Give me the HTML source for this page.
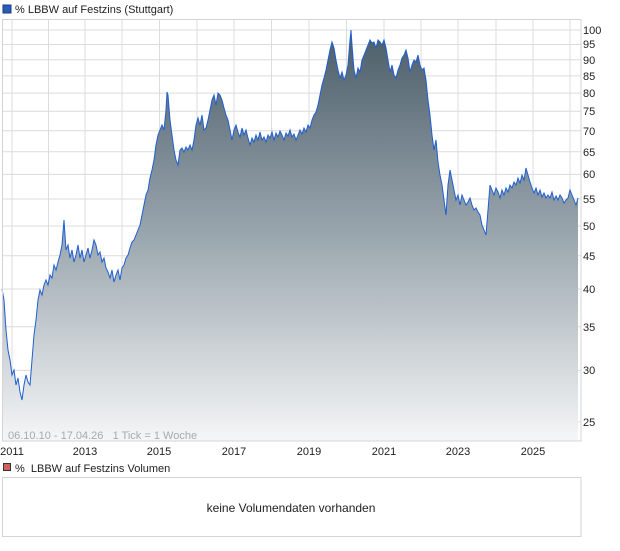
<!DOCTYPE html>
<html><head><meta charset="utf-8"><style>
body{margin:0;background:#fff;width:620px;height:546px;overflow:hidden;font-family:"Liberation Sans",sans-serif}
</style></head><body>
<svg width="620" height="546" xmlns="http://www.w3.org/2000/svg" font-family="Liberation Sans, sans-serif">
<defs>
<linearGradient id="g" gradientUnits="userSpaceOnUse" x1="0" y1="30" x2="0" y2="441">
<stop offset="0" stop-color="#4b5d69"/><stop offset="0.5" stop-color="#9aa6ae"/><stop offset="1" stop-color="#f5f6f7"/>
</linearGradient>
</defs>
<rect x="3" y="5" width="8" height="8" fill="#2a5cb8" stroke="#1a3c80" stroke-width="1"/>
<text x="15" y="13" font-size="11" fill="#222">%  LBBW auf Festzins (Stuttgart)</text>
<g stroke="#dcdcdc" stroke-width="1">
<line x1="12" y1="19" x2="12" y2="441"/><line x1="48.5" y1="19" x2="48.5" y2="441"/><line x1="85" y1="19" x2="85" y2="441"/><line x1="122" y1="19" x2="122" y2="441"/><line x1="159.5" y1="19" x2="159.5" y2="441"/><line x1="197" y1="19" x2="197" y2="441"/><line x1="234" y1="19" x2="234" y2="441"/><line x1="271.5" y1="19" x2="271.5" y2="441"/><line x1="309" y1="19" x2="309" y2="441"/><line x1="346.5" y1="19" x2="346.5" y2="441"/><line x1="384" y1="19" x2="384" y2="441"/><line x1="421" y1="19" x2="421" y2="441"/><line x1="458" y1="19" x2="458" y2="441"/><line x1="496" y1="19" x2="496" y2="441"/><line x1="533" y1="19" x2="533" y2="441"/><line x1="570" y1="19" x2="570" y2="441"/>
<line x1="2" y1="30" x2="581" y2="30"/><line x1="2" y1="44.5" x2="581" y2="44.5"/><line x1="2" y1="59.7" x2="581" y2="59.7"/><line x1="2" y1="75.9" x2="581" y2="75.9"/><line x1="2" y1="93.1" x2="581" y2="93.1"/><line x1="2" y1="111.3" x2="581" y2="111.3"/><line x1="2" y1="130.8" x2="581" y2="130.8"/><line x1="2" y1="151.8" x2="581" y2="151.8"/><line x1="2" y1="174.4" x2="581" y2="174.4"/><line x1="2" y1="199" x2="581" y2="199"/><line x1="2" y1="226" x2="581" y2="226"/><line x1="2" y1="255.8" x2="581" y2="255.8"/><line x1="2" y1="289" x2="581" y2="289"/><line x1="2" y1="326.8" x2="581" y2="326.8"/><line x1="2" y1="370.4" x2="581" y2="370.4"/><line x1="2" y1="422" x2="581" y2="422"/>
</g>
<path id="p" fill="url(#g)" stroke="none" d="M2,441 L2,289 4,300 6,330 8,350 10,360 12,375 14,370 16,385 18,378 20,392 22,400 24,385 26,375 28,382 30,385 32,360 34,335 36,320 38,300 40,290 42,295 44,285 46,280 48,285 50,275 52,278 54,265 56,270 58,262 60,255 62,245 64,220 65,235 66,250 68,245 70,258 72,250 74,262 76,255 78,245 80,258 82,250 84,262 86,255 88,248 90,258 92,250 94,240 96,245 98,255 100,252 102,262 104,258 106,268 108,272 110,278 112,270 114,282 116,275 118,270 120,280 122,268 124,265 126,258 128,255 130,248 132,242 134,240 136,235 138,230 140,225 142,215 144,205 146,195 148,190 150,178 152,170 154,160 156,145 158,135 160,130 162,125 164,130 166,110 167,92 168,95 170,120 172,135 174,150 176,160 178,165 180,150 182,148 184,152 186,147 188,150 190,145 192,150 194,140 196,125 198,118 200,125 202,115 204,130 206,128 208,120 210,110 212,100 214,95 216,105 218,93 220,95 222,100 224,108 226,115 228,120 230,130 232,140 234,130 236,125 238,132 240,137 242,128 244,135 246,130 248,138 250,145 252,138 254,142 256,135 258,140 260,132 262,140 264,137 266,142 268,135 270,138 272,132 274,140 276,133 278,137 280,131 282,135 284,140 286,133 288,136 290,130 292,137 294,134 296,140 298,135 300,130 302,134 304,128 306,132 308,125 310,128 312,120 314,115 316,112 318,105 320,95 322,85 324,78 326,70 328,60 330,50 332,42 334,48 336,60 338,70 340,78 342,72 344,80 346,75 348,65 350,40 351,30 352,45 354,70 356,78 358,68 360,72 362,60 364,55 366,50 368,45 370,40 372,43 374,42 376,48 378,40 380,42 382,45 384,40 386,48 388,60 390,72 392,65 394,75 396,78 398,70 400,65 402,58 404,55 406,50 408,58 410,72 412,65 414,60 416,62 418,55 420,65 422,70 424,68 426,80 428,100 430,115 432,135 434,150 436,140 438,162 440,175 442,185 444,200 446,215 448,185 450,170 452,180 454,190 456,200 458,195 460,205 462,195 464,200 466,205 468,202 470,198 472,205 474,210 476,208 478,212 480,215 482,225 484,230 486,235 488,210 490,185 492,190 494,195 496,188 498,192 500,198 502,190 504,195 506,188 508,192 510,185 512,188 514,182 516,185 518,178 520,183 522,175 524,180 526,168 528,175 530,182 532,188 534,193 536,188 538,195 540,190 542,197 544,193 546,198 548,195 550,198 552,192 554,200 556,196 558,200 560,195 562,198 564,203 566,200 568,198 570,190 572,195 574,200 576,205 578,198 L578,441 Z"/>
<polyline fill="none" stroke="#1f5fd0" stroke-width="1" points="2,289 4,300 6,330 8,350 10,360 12,375 14,370 16,385 18,378 20,392 22,400 24,385 26,375 28,382 30,385 32,360 34,335 36,320 38,300 40,290 42,295 44,285 46,280 48,285 50,275 52,278 54,265 56,270 58,262 60,255 62,245 64,220 65,235 66,250 68,245 70,258 72,250 74,262 76,255 78,245 80,258 82,250 84,262 86,255 88,248 90,258 92,250 94,240 96,245 98,255 100,252 102,262 104,258 106,268 108,272 110,278 112,270 114,282 116,275 118,270 120,280 122,268 124,265 126,258 128,255 130,248 132,242 134,240 136,235 138,230 140,225 142,215 144,205 146,195 148,190 150,178 152,170 154,160 156,145 158,135 160,130 162,125 164,130 166,110 167,92 168,95 170,120 172,135 174,150 176,160 178,165 180,150 182,148 184,152 186,147 188,150 190,145 192,150 194,140 196,125 198,118 200,125 202,115 204,130 206,128 208,120 210,110 212,100 214,95 216,105 218,93 220,95 222,100 224,108 226,115 228,120 230,130 232,140 234,130 236,125 238,132 240,137 242,128 244,135 246,130 248,138 250,145 252,138 254,142 256,135 258,140 260,132 262,140 264,137 266,142 268,135 270,138 272,132 274,140 276,133 278,137 280,131 282,135 284,140 286,133 288,136 290,130 292,137 294,134 296,140 298,135 300,130 302,134 304,128 306,132 308,125 310,128 312,120 314,115 316,112 318,105 320,95 322,85 324,78 326,70 328,60 330,50 332,42 334,48 336,60 338,70 340,78 342,72 344,80 346,75 348,65 350,40 351,30 352,45 354,70 356,78 358,68 360,72 362,60 364,55 366,50 368,45 370,40 372,43 374,42 376,48 378,40 380,42 382,45 384,40 386,48 388,60 390,72 392,65 394,75 396,78 398,70 400,65 402,58 404,55 406,50 408,58 410,72 412,65 414,60 416,62 418,55 420,65 422,70 424,68 426,80 428,100 430,115 432,135 434,150 436,140 438,162 440,175 442,185 444,200 446,215 448,185 450,170 452,180 454,190 456,200 458,195 460,205 462,195 464,200 466,205 468,202 470,198 472,205 474,210 476,208 478,212 480,215 482,225 484,230 486,235 488,210 490,185 492,190 494,195 496,188 498,192 500,198 502,190 504,195 506,188 508,192 510,185 512,188 514,182 516,185 518,178 520,183 522,175 524,180 526,168 528,175 530,182 532,188 534,193 536,188 538,195 540,190 542,197 544,193 546,198 548,195 550,198 552,192 554,200 556,196 558,200 560,195 562,198 564,203 566,200 568,198 570,190 572,195 574,200 576,205 578,198"/>
<rect x="2.5" y="19.5" width="578.5" height="421.5" fill="none" stroke="#d4d4d4"/>
<g font-size="11" fill="#222">
<text x="583" y="34">100</text><text x="583" y="48">95</text><text x="583" y="64">90</text><text x="583" y="80">85</text><text x="583" y="97">80</text><text x="583" y="115">75</text><text x="583" y="135">70</text><text x="583" y="156">65</text><text x="583" y="178">60</text><text x="583" y="203">55</text><text x="583" y="230">50</text><text x="583" y="260">45</text><text x="583" y="293">40</text><text x="583" y="331">35</text><text x="583" y="374">30</text><text x="583" y="426">25</text>
</g>
<text x="8" y="439" font-size="11" fill="#a9a9a9" xml:space="preserve">06.10.10 - 17.04.26   1 Tick = 1 Woche</text>
<g font-size="11" fill="#222" text-anchor="middle">
<text x="12" y="455">2011</text><text x="85" y="455">2013</text><text x="159" y="455">2015</text><text x="234" y="455">2017</text><text x="309" y="455">2019</text><text x="384" y="455">2021</text><text x="458" y="455">2023</text><text x="533" y="455">2025</text>
</g>
<rect x="3.5" y="463.5" width="7" height="7" fill="#d06060" stroke="#333" stroke-width="1"/>
<text x="15" y="472" font-size="11" fill="#222" xml:space="preserve">%  LBBW auf Festzins Volumen</text>
<rect x="2.5" y="477.5" width="578.5" height="59" fill="#fff" stroke="#d4d4d4"/>
<text x="291" y="512" font-size="12" fill="#222" text-anchor="middle">keine Volumendaten vorhanden</text>
</svg>
</body></html>
